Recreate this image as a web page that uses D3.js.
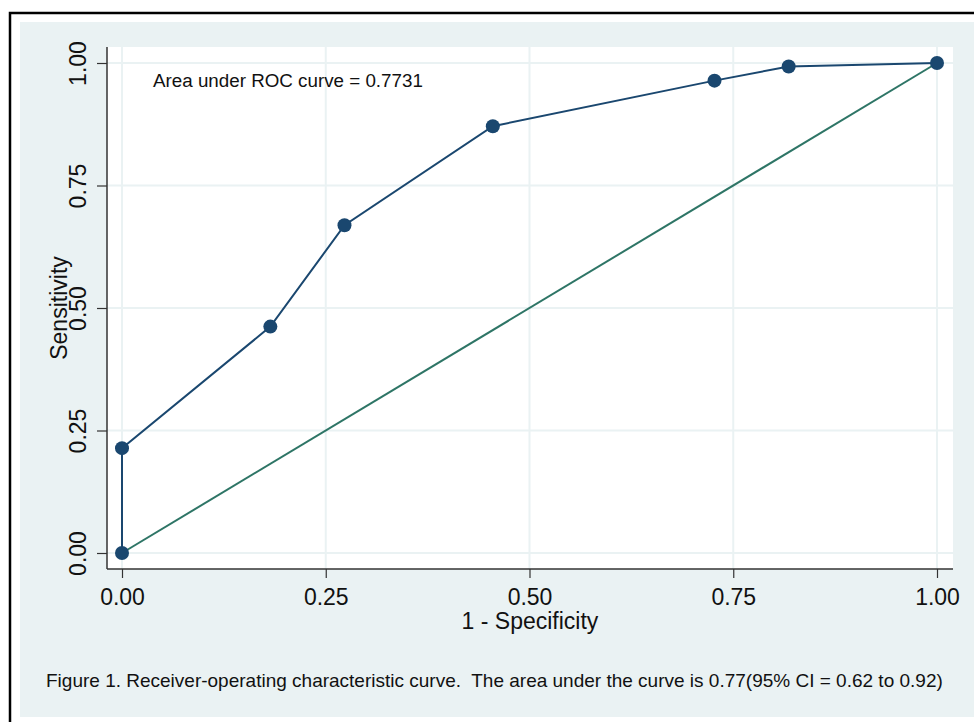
<!DOCTYPE html>
<html>
<head>
<meta charset="utf-8">
<script src="https://cdn.jsdelivr.net/npm/d3@7"></script>
<style>
  body { margin: 0; background: #fff; }
  text { font-family: "Liberation Sans", Arial, sans-serif; fill: #111; }
</style>
</head>
<body>
<div id="chart"></div>
<script>
// ROC points (1 - specificity, sensitivity)
const fpr = [0, 0, 0.182, 0.273, 0.455, 0.727, 0.818, 1]
const tpr = [0, 0.214, 0.462, 0.669, 0.871, 0.964, 0.993, 1]
const refLine = [0, 1]
const tickValues = [0, 0.25, 0.5, 0.75, 1]
const aucText = 'Area under ROC curve = 0.7731'
const caption = 'Figure 1. Receiver-operating characteristic curve.  The area under the curve is 0.77(95% CI = 0.62 to 0.92)'

const dimensions = { width: 974, height: 722 }
const plot = { left: 107, right: 953, top: 47, bottom: 569 }

const svg = d3.select('#chart')
    .append('svg')
    .attr('width', dimensions.width)
    .attr('height', dimensions.height)

// outer frame + background
svg.append('rect')
    .attr('x', 10).attr('y', 13)
    .attr('width', 1000).attr('height', 1000)
    .attr('fill', '#fff')
    .attr('stroke', '#000')
    .attr('stroke-width', 2.5)

svg.append('rect')
    .attr('x', 20).attr('y', 22)
    .attr('width', 960).attr('height', 695)
    .attr('fill', '#eaf2f3')

svg.append('rect')
    .attr('x', plot.left).attr('y', plot.top)
    .attr('width', plot.right - plot.left)
    .attr('height', plot.bottom - plot.top)
    .attr('fill', '#fff')

// scales
const xScale = d3.scaleLinear().domain([0, 1]).range([122, 937])
const yScale = d3.scaleLinear().domain([0, 1]).range([553, 63])

// grid
svg.append('g').selectAll('line.gx')
    .data(tickValues)
    .join('line')
    .attr('x1', d => xScale(d)).attr('x2', d => xScale(d))
    .attr('y1', plot.top).attr('y2', plot.bottom)
    .attr('stroke', '#eaf2f3').attr('stroke-width', 2)

svg.append('g').selectAll('line.gy')
    .data(tickValues)
    .join('line')
    .attr('y1', d => yScale(d)).attr('y2', d => yScale(d))
    .attr('x1', plot.left).attr('x2', plot.right)
    .attr('stroke', '#eaf2f3').attr('stroke-width', 2)

// axes
const fmt = d3.format('.2f')
const xAxis = d3.axisBottom(xScale)
    .tickValues(tickValues).tickFormat(fmt)
    .tickSize(9).tickPadding(8)
const yAxis = d3.axisLeft(yScale)
    .tickValues(tickValues).tickFormat(fmt)
    .tickSize(10).tickPadding(0)

const gx = svg.append('g')
    .attr('transform', `translate(0, ${plot.bottom})`)
    .call(xAxis)
gx.select('.domain').attr('d', `M${plot.left},0H${plot.right}`)

const gy = svg.append('g')
    .attr('transform', `translate(${plot.left}, 0)`)
    .call(yAxis)
gy.select('.domain').attr('d', `M0,${plot.top}V${plot.bottom}`)

;[gx, gy].forEach(g => {
    g.select('.domain').attr('stroke', '#333').attr('stroke-width', 1.5)
    g.selectAll('.tick line').attr('stroke', '#333').attr('stroke-width', 1.2)
    g.selectAll('.tick text')
        .style('font-family', '"Liberation Sans", Arial, sans-serif')
        .style('font-size', '23px').attr('fill', '#111')
})
gx.selectAll('.tick text').attr('dy', null).attr('y', 36)
gy.selectAll('.tick text')
    .attr('x', null).attr('dy', null)
    .attr('text-anchor', 'middle')
    .attr('transform', 'translate(-21, 0) rotate(-90)')

// reference line
svg.append('line')
    .attr('x1', xScale(refLine[0])).attr('y1', yScale(refLine[0]))
    .attr('x2', xScale(refLine[1])).attr('y2', yScale(refLine[1]))
    .attr('stroke', '#2e7566').attr('stroke-width', 2)

// ROC curve
const points = fpr.map((d, i) => [d, tpr[i]])
const lineGenerator = d3.line()
    .x(d => xScale(d[0]))
    .y(d => yScale(d[1]))

svg.append('path')
    .datum(points)
    .attr('d', lineGenerator)
    .attr('fill', 'none')
    .attr('stroke', '#1a476f')
    .attr('stroke-width', 2)

svg.append('g').selectAll('circle')
    .data(points)
    .join('circle')
    .attr('cx', d => xScale(d[0]))
    .attr('cy', d => yScale(d[1]))
    .attr('r', 7)
    .attr('fill', '#1a476f')

// texts
svg.append('text')
    .attr('x', 153).attr('y', 87)
    .style('font-size', '18.8px')
    .text(aucText)

svg.append('text')
    .attr('x', (plot.left + plot.right) / 2).attr('y', 629)
    .attr('text-anchor', 'middle')
    .style('font-size', '23px')
    .text('1 - Specificity')

svg.append('text')
    .attr('transform', `translate(67, ${(plot.top + plot.bottom) / 2}) rotate(-90)`)
    .attr('text-anchor', 'middle')
    .style('font-size', '23px')
    .text('Sensitivity')

svg.append('text')
    .attr('x', 46).attr('y', 687)
    .style('font-size', '19px')
    .style('white-space', 'pre')
    .text(caption)
</script>
</body>
</html>
